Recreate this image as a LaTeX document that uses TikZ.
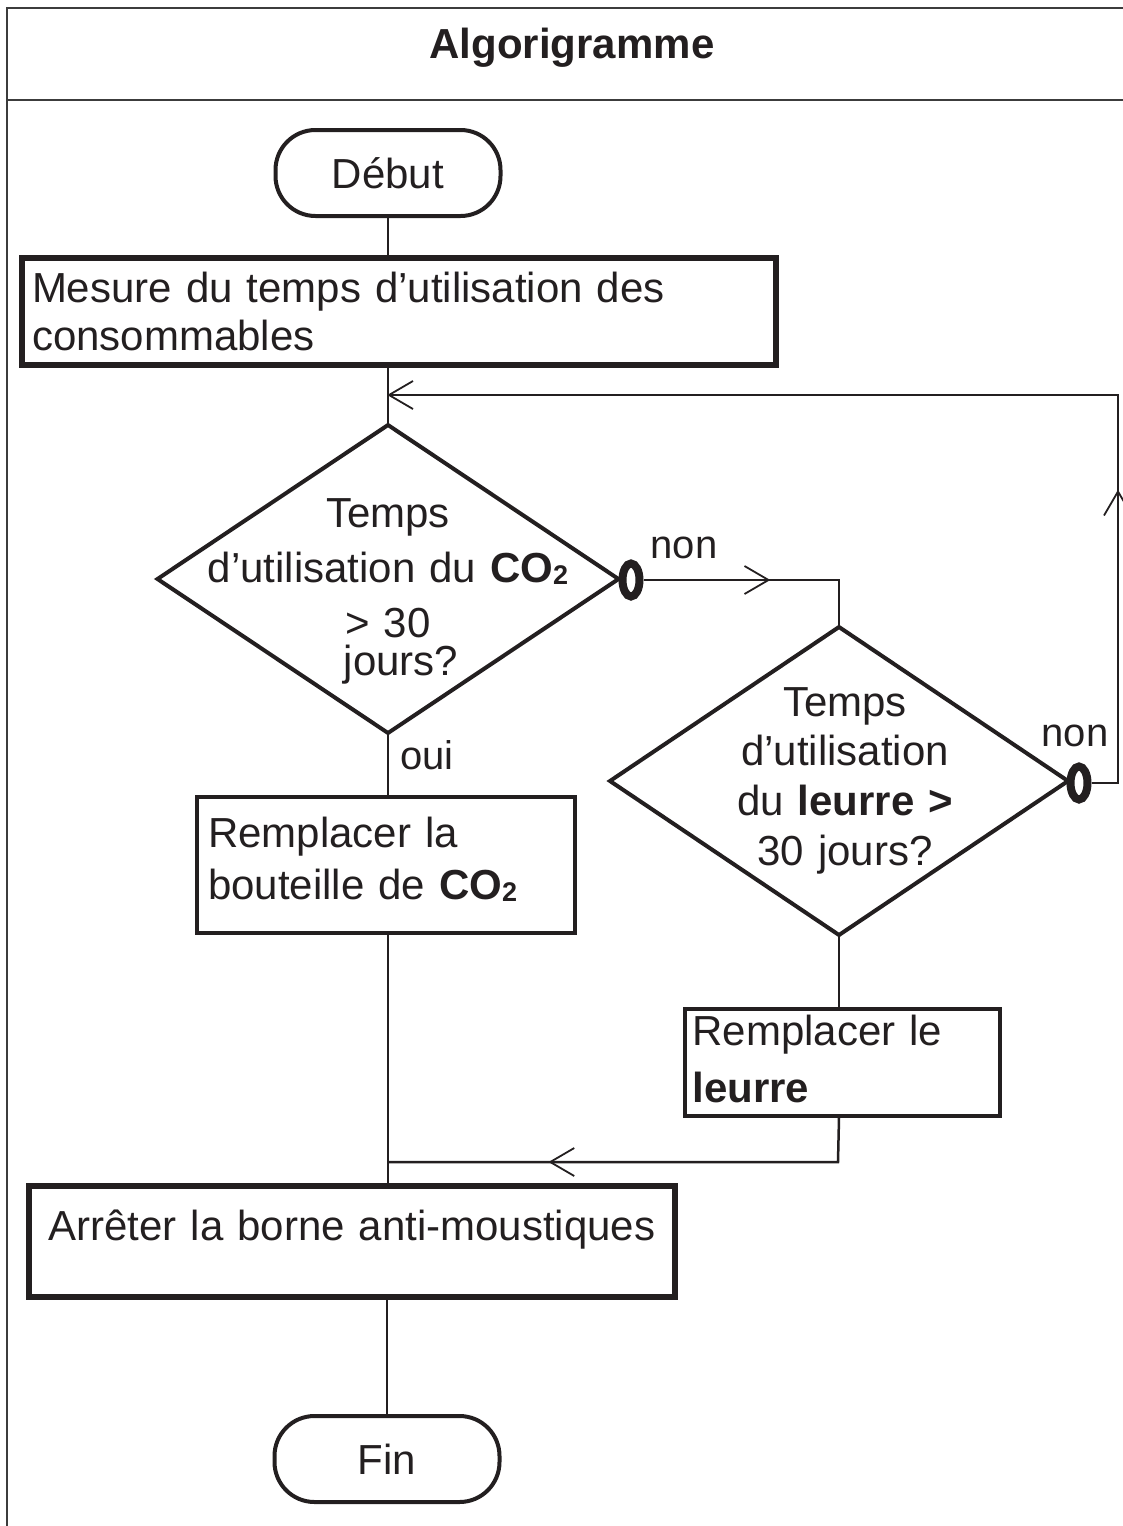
\documentclass[tikz,border=0pt]{standalone}
\usepackage{fontspec}
\setmainfont{Liberation Sans}
\usetikzlibrary{shapes.geometric,decorations.markings,calc}
\definecolor{ink}{RGB}{35,31,32}
\definecolor{frameink}{RGB}{60,60,60}
\newcommand{\cotwo}{\textbf{CO\raisebox{-0.06em}{\fontsize{27}{27}\selectfont 2}}}
\begin{document}
\begin{tikzpicture}[x=1pt,y=-1pt,
  every node/.style={font=\fontsize{42}{48}\selectfont, text=ink},
  term/.style={rectangle, rounded corners=40pt, draw=ink, line width=4pt, minimum width=225pt, minimum height=86pt, inner sep=0pt},
  procA/.style={rectangle, draw=ink, line width=6pt, inner sep=0pt},
  procB/.style={rectangle, draw=ink, line width=3.5pt, inner sep=0pt},
  decision/.style={diamond, draw=ink, line width=4pt, inner sep=0pt, outer sep=0pt},
  conn/.style={draw=ink, line width=2.5pt},
  lbl/.style={font=\fontsize{40}{48}\selectfont, inner sep=0pt},
  inv/.style={ellipse, draw=ink, fill=white, line width=8pt, minimum width=17pt, minimum height=33pt, inner sep=0pt},
  arrowat/.style={postaction={decorate, decoration={markings, mark=at position #1 with {\draw[ink, line width=1.8pt] (-24pt,14pt) -- (0pt,0pt) -- (-24pt,-14pt);}}}}
]
\useasboundingbox (0,0) rectangle (1123,1526);
\clip (0,0) rectangle (1123,1526);

% frame
\draw[frameink, line width=2pt] (7,8) rectangle (1137,1545);
\draw[frameink, line width=2pt] (7,100) -- (1137,100);
\node[font=\bfseries\fontsize{42}{48}\selectfont] (title) at (572,48) {Algorigramme};

% nodes
\node[term] (deb) at (388,173) {Début};
\node[procA, minimum width=754pt, minimum height=107pt, text width=734pt, align=left, text height=10pt, text depth=29pt] (mes) at (399,311.5) {Mesure du temps d’utilisation des\\consommables};
\node[decision, minimum width=461pt, minimum height=308pt] (d1) at (388,579) {};
\node[text width=470pt, align=center, anchor=base, inner sep=0pt] (d1t) at (388,527) {Temps\\[7pt]d’utilisation du \cotwo\\[7pt]> 30\hspace*{2pt}\\[-10pt]\hspace*{26pt}jours?};
\node[inv] (o1) at (631,580) {};
\node[lbl] (non1) at (684,548) {non};

\node[procB, minimum width=378pt, minimum height=136pt, text width=356pt, align=left, text height=4pt, text depth=40pt] (b2) at (386,865) {Remplacer la\\[4pt]bouteille de \cotwo};
\node[lbl] (oui) at (427,755) {oui};

\node[decision, minimum width=458pt, minimum height=308pt] (d2) at (839,781) {};
\node[text width=440pt, align=center, anchor=base, inner sep=0pt] (d2t) at (845,716) {Temps\\[1pt]d’utilisation\\[2pt]du \textbf{leurre >}\\[2pt]30 jours?};
\node[inv] (o2) at (1079,783) {};
\node[lbl] (non2) at (1075,736) {non};

\node[procB, minimum width=315pt, minimum height=107pt, text width=300pt, align=left, text height=5pt, text depth=40pt] (b3) at (842.5,1062.5) {Remplacer le\\[9pt]\textbf{leurre}};

\node[procA, minimum width=646pt, minimum height=111pt, text width=640pt, align=center, text height=30pt, text depth=32pt] (arr) at (352,1241.5) {Arrêter la borne anti-moustiques};
\node[term] (fin) at (387,1459) {Fin};

% helper coordinates
\coordinate (j1) at (388,395);
\coordinate (j2) at (388,1162);
\coordinate (j3) at (838,1162);
\coordinate (rt) at (1118,395);

% connectors
\draw[conn] (deb.south) -- (deb.south |- mes.north);
\draw[conn] (d1.north |- mes.south) -- (d1.north);
\draw[conn] (d1.south) -- (d1.south |- b2.north);
\draw[conn] (d1.south |- b2.south) -- (d1.south |- arr.north);
\draw[conn, arrowat=125pt] (o1.east) -| (d2.north);
\draw[conn] (d2.south) -- (d2.south |- b3.north);
\draw[conn, arrowat=332pt] (d2.south |- b3.south) -- (j3) -- (j2);
\draw[conn, arrowat=318pt, arrowat=-1pt] (o2.east) -| (rt) -- (j1);
\draw[conn] (fin.north |- arr.south) -- (fin.north);
\end{tikzpicture}
\end{document}
